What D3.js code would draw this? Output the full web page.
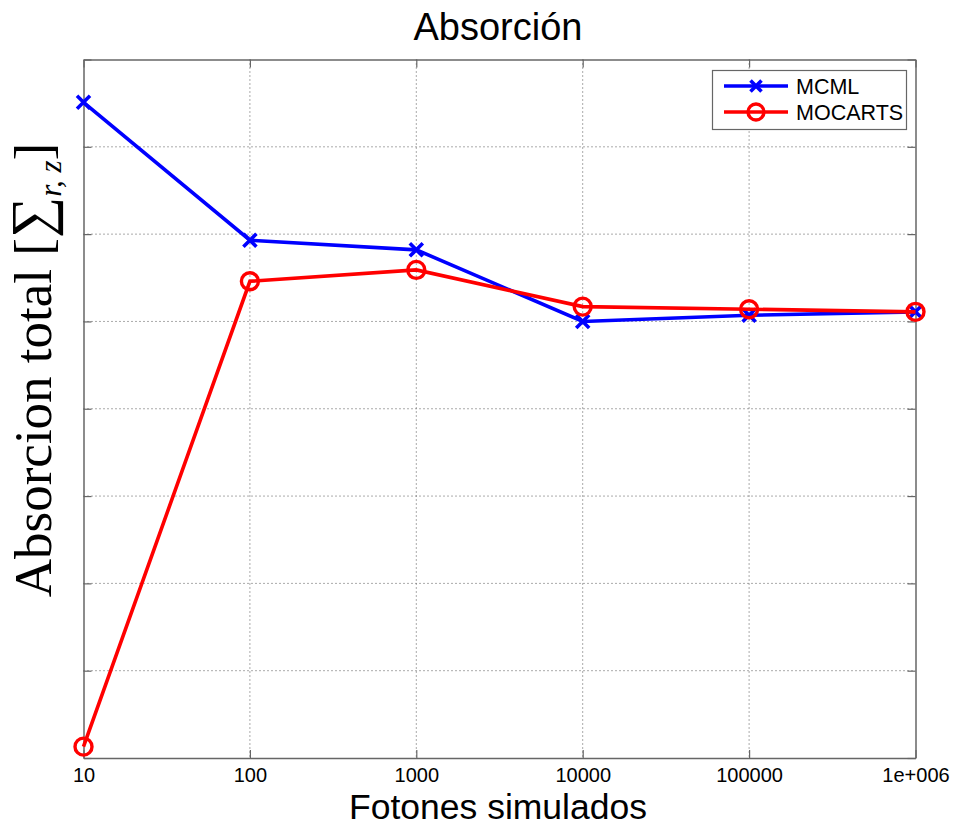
<!doctype html>
<html>
<head>
<meta charset="utf-8">
<title>Absorción</title>
<script src="https://cdn.jsdelivr.net/npm/d3@7"></script>
<style>
  body { margin: 0; background: #fff; }
  text { font-family: Arial, "Liberation Sans", sans-serif; }
</style>
</head>
<body>
<div id="chart-area"></div>
<script>
  // data (y axis has no labels, units are grid steps)
  var photons = [10, 100, 1000, 10000, 100000, 1000000];
  var xTickLabels = ['10', '100', '1000', '10000', '100000', '1e+006'];
  var mcml = [7.51, 5.93, 5.82, 5.00, 5.07, 5.11];
  var mocarts = [0.13, 5.46, 5.59, 5.17, 5.14, 5.11];
  var yTicks = [0, 1, 2, 3, 4, 5, 6, 7, 8];

  var margin = {left: 83.5, right: 38.5, top: 59.5, bottom: 69};
  var width = 954 - margin.left - margin.right;
  var height = 827 - margin.top - margin.bottom;

  var svg = d3.select('#chart-area').append('svg')
      .attr('width', 954)
      .attr('height', 827);
  var g = svg.append('g')
      .attr('transform', 'translate(' + margin.left + ',' + margin.top + ')');

  var x = d3.scaleLog().domain([10, 1000000]).range([0, width]);
  var y = d3.scaleLinear().domain([0, 8]).range([height, 0]);

  // grid
  g.append('g').selectAll('line.vg')
      .data(photons.slice(1, -1))
      .enter().append('line')
      .attr('x1', function(d) { return x(d); })
      .attr('x2', function(d) { return x(d); })
      .attr('y1', 0).attr('y2', height)
      .attr('stroke', '#555').attr('stroke-width', 1)
      .attr('stroke-dasharray', '1,3');
  g.append('g').selectAll('line.hg')
      .data(yTicks.slice(1, -1))
      .enter().append('line')
      .attr('y1', function(d) { return y(d); })
      .attr('y2', function(d) { return y(d); })
      .attr('x1', 0).attr('x2', width)
      .attr('stroke', '#555').attr('stroke-width', 1)
      .attr('stroke-dasharray', '1,3');

  // axes (inward ticks, MATLAB style)
  var xAxis = d3.axisBottom(x)
      .tickValues(photons)
      .tickFormat(function(d, i) { return xTickLabels[i]; })
      .tickSizeInner(-8).tickSizeOuter(0).tickPadding(10);
  var xg = g.append('g').attr('transform', 'translate(0,' + height + ')').call(xAxis);
  var xTop = g.append('g').call(d3.axisTop(x).tickValues(photons).tickFormat('')
      .tickSizeInner(-8).tickSizeOuter(0));
  var yAxis = d3.axisLeft(y).tickValues(yTicks).tickFormat('')
      .tickSizeInner(-8).tickSizeOuter(0);
  var yg = g.append('g').call(yAxis);
  var yRight = g.append('g').attr('transform', 'translate(' + width + ',0)')
      .call(d3.axisRight(y).tickValues(yTicks).tickFormat('').tickSizeInner(-8).tickSizeOuter(0));

  [xg, xTop, yg, yRight].forEach(function(a) {
    a.select('.domain').attr('stroke', '#666').attr('stroke-width', 1.5);
    a.selectAll('.tick line').attr('stroke', '#666').attr('stroke-width', 1.2);
  });
  xg.selectAll('.tick text')
      .attr('font-size', '20px')
      .attr('fill', '#000')
      .style('font-family', 'Arial, "Liberation Sans", sans-serif');

  var line = d3.line()
      .x(function(d, i) { return x(photons[i]); })
      .y(function(d) { return y(d); });

  // MCML
  g.append('path').datum(mcml)
      .attr('d', line)
      .attr('fill', 'none').attr('stroke', '#0000ff').attr('stroke-width', 3.6);
  g.selectAll('path.xm').data(mcml).enter().append('path')
      .attr('d', 'M-6.5,-6.5L6.5,6.5M-6.5,6.5L6.5,-6.5')
      .attr('transform', function(d, i) { return 'translate(' + x(photons[i]) + ',' + y(d) + ')'; })
      .attr('stroke', '#0000ff').attr('stroke-width', 3.6).attr('fill', 'none');

  // MOCARTS
  g.append('path').datum(mocarts)
      .attr('d', line)
      .attr('fill', 'none').attr('stroke', '#ff0000').attr('stroke-width', 3.6);
  g.selectAll('circle.om').data(mocarts).enter().append('circle')
      .attr('cx', function(d, i) { return x(photons[i]); })
      .attr('cy', function(d) { return y(d); })
      .attr('r', 8.5)
      .attr('stroke', '#ff0000').attr('stroke-width', 3.4).attr('fill', 'none');

  // legend
  var lg = svg.append('g');
  lg.append('rect')
      .attr('x', 712.5).attr('y', 70.5).attr('width', 194).attr('height', 59)
      .attr('fill', '#fff').attr('stroke', '#666').attr('stroke-width', 1.2);
  var items = [
    {name: 'MCML', color: '#0000ff', mark: 'x', y: 86},
    {name: 'MOCARTS', color: '#ff0000', mark: 'o', y: 112}
  ];
  items.forEach(function(it) {
    lg.append('line').attr('x1', 724).attr('x2', 788)
        .attr('y1', it.y).attr('y2', it.y)
        .attr('stroke', it.color).attr('stroke-width', 3.6);
    if (it.mark === 'x') {
      lg.append('path').attr('d', 'M-5.5,-5.5L5.5,5.5M-5.5,5.5L5.5,-5.5')
          .attr('transform', 'translate(756,' + it.y + ')')
          .attr('stroke', it.color).attr('stroke-width', 3.6);
    } else {
      lg.append('circle').attr('cx', 756).attr('cy', it.y).attr('r', 8)
          .attr('stroke', it.color).attr('stroke-width', 3.4).attr('fill', 'none');
    }
    lg.append('text').attr('x', 796).attr('y', it.y + 8)
        .attr('font-size', '21.5px').attr('fill', '#000').text(it.name);
  });

  // title and labels
  svg.append('text')
      .attr('x', 498).attr('y', 40)
      .attr('text-anchor', 'middle')
      .attr('font-size', '38px')
      .text('Absorción');
  svg.append('text')
      .attr('x', 498).attr('y', 819)
      .attr('text-anchor', 'middle')
      .attr('font-size', '35.5px')
      .text('Fotones simulados');

  var yl = svg.append('text')
      .attr('transform', 'translate(51,370) rotate(-90)')
      .attr('text-anchor', 'middle')
      .style('font-family', '"Liberation Serif", "DejaVu Serif", serif')
      .attr('font-size', '53px');
  yl.append('tspan').text('Absorcion total [');
  yl.append('tspan').attr('font-size', '58px').text('∑');
  yl.append('tspan').attr('font-size', '31px').attr('font-style', 'italic')
      .attr('dy', 10).text('r, z');
  yl.append('tspan').attr('dy', -10).text(']');
</script>
</body>
</html>
